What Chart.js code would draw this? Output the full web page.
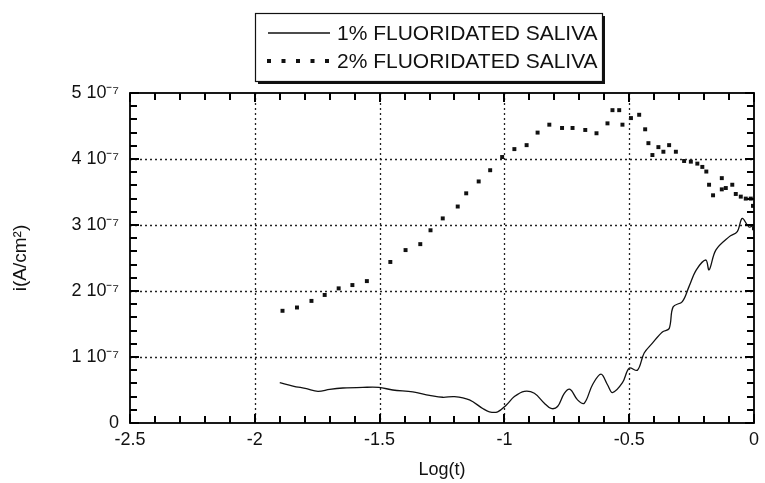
<!DOCTYPE html>
<html>
<head>
<meta charset="utf-8">
<script src="https://cdn.jsdelivr.net/npm/chart.js@4.4.0/dist/chart.umd.min.js"></script>
<style>
  html, body { margin: 0; padding: 0; background: #fff; }
</style>
</head>
<body>
<canvas id="chart" width="765" height="483"></canvas>
<script>
// axis labels
const xTickLabels = ['-2.5', '-2', '-1.5', '-1', '-0.5', '0'];
const yTickLabels = ['0', '1 10⁻⁷', '2 10⁻⁷', '3 10⁻⁷', '4 10⁻⁷', '5 10⁻⁷'];
const seriesLabels = ['1% FLUORIDATED SALIVA', '2% FLUORIDATED SALIVA'];

// 1% saliva: log(t) and current density (units of 1e-7 A/cm2)
const logT1 = [-1.90, -1.847, -1.793, -1.747, -1.70, -1.647, -1.567, -1.503, -1.447, -1.367, -1.30, -1.247,
  -1.20, -1.14, -1.087, -1.06, -1.027, -0.993, -0.96, -0.92, -0.88, -0.84, -0.813, -0.787, -0.76, -0.737,
  -0.707, -0.68, -0.647, -0.613, -0.587, -0.567, -0.527, -0.50, -0.467, -0.44, -0.407, -0.367, -0.34,
  -0.324, -0.287, -0.26, -0.231, -0.193, -0.18, -0.153, -0.10, -0.067, -0.047, -0.02, 0];
const i1 = [0.61, 0.56, 0.52, 0.48, 0.51, 0.53, 0.54, 0.54, 0.50, 0.47, 0.42, 0.39,
  0.40, 0.35, 0.22, 0.17, 0.17, 0.27, 0.40, 0.48, 0.45, 0.30, 0.22, 0.25, 0.45, 0.51,
  0.35, 0.30, 0.58, 0.74, 0.58, 0.46, 0.61, 0.83, 0.80, 1.06, 1.21, 1.38, 1.43,
  1.76, 1.84, 2.07, 2.32, 2.47, 2.32, 2.62, 2.82, 2.90, 3.10, 2.97, 3.00];

// 2% saliva
const logT2 = [-1.889, -1.831, -1.773, -1.72, -1.664, -1.609, -1.551, -1.457, -1.396, -1.337, -1.296, -1.247,
  -1.187, -1.153, -1.103, -1.057, -1.009, -0.96, -0.911, -0.867, -0.82, -0.769, -0.727, -0.676, -0.631,
  -0.587, -0.567, -0.54, -0.527, -0.493, -0.46, -0.436, -0.423, -0.407, -0.383, -0.363, -0.34, -0.313,
  -0.28, -0.253, -0.227, -0.207, -0.191, -0.18, -0.164, -0.129, -0.129, -0.113, -0.087, -0.073, -0.053,
  -0.033, -0.013, -0.004, 0];
const i2 = [1.70, 1.75, 1.85, 1.94, 2.04, 2.09, 2.15, 2.44, 2.62, 2.71, 2.92, 3.10,
  3.28, 3.48, 3.66, 3.83, 4.03, 4.15, 4.21, 4.40, 4.52, 4.47, 4.47, 4.44, 4.39,
  4.54, 4.74, 4.74, 4.52, 4.62, 4.67, 4.45, 4.24, 4.06, 4.18, 4.11, 4.21, 4.11,
  3.97, 3.96, 3.93, 3.88, 3.81, 3.61, 3.45, 3.71, 3.54, 3.56, 3.61, 3.47, 3.43,
  3.40, 3.40, 3.29, 2.95];

const FONT = '"Liberation Sans", Arial, sans-serif';
const INK = '#111';

function toPoints(xs, ys) {
  return xs.map((x, k) => ({ x: x, y: ys[k] }));
}

// dotted grid, frame and inward ticks (drawn on top of the data)
const framePlugin = {
  id: 'frame',
  afterDatasetsDraw(chart) {
    const { ctx, chartArea: a, scales: { x, y } } = chart;
    ctx.save();
    ctx.strokeStyle = '#222';
    ctx.lineWidth = 1.3;
    ctx.setLineDash([2, 3]);
    for (let v = -2; v < 0; v += 0.5) {
      const px = Math.round(x.getPixelForValue(v)) + 0.5;
      ctx.beginPath(); ctx.moveTo(px, a.top); ctx.lineTo(px, a.bottom); ctx.stroke();
    }
    for (let v = 1; v < 5; v++) {
      const py = Math.round(y.getPixelForValue(v)) + 0.5;
      ctx.beginPath(); ctx.moveTo(a.left, py); ctx.lineTo(a.right, py); ctx.stroke();
    }
    ctx.setLineDash([]);
    ctx.strokeStyle = '#000';
    ctx.lineWidth = 2;
    ctx.beginPath();
    for (let k = 0; k <= 25; k++) {
      const px = Math.round(x.getPixelForValue(-2.5 + k * 0.1));
      const len = k % 5 === 0 ? 9 : 7;
      ctx.moveTo(px, a.bottom); ctx.lineTo(px, a.bottom - len);
      ctx.moveTo(px, a.top); ctx.lineTo(px, a.top + len);
    }
    for (let k = 0; k <= 25; k++) {
      const py = Math.round(y.getPixelForValue(k * 0.2));
      const len = k % 5 === 0 ? 9 : 7;
      ctx.moveTo(a.left, py); ctx.lineTo(a.left + len, py);
      ctx.moveTo(a.right, py); ctx.lineTo(a.right - len, py);
    }
    ctx.stroke();
    ctx.lineWidth = 1.8;
    ctx.strokeRect(a.left, a.top, a.right - a.left, a.bottom - a.top);
    ctx.restore();
  }
};

// boxed legend with drop shadow, above the plot
const legendPlugin = {
  id: 'boxLegend',
  afterDraw(chart) {
    const ctx = chart.ctx;
    const bx = 255, by = 13, bw = 347, bh = 68;
    ctx.save();
    ctx.fillStyle = INK;
    ctx.fillRect(bx + 3, by + 3, bw, bh);
    ctx.fillStyle = '#fff';
    ctx.fillRect(bx, by, bw, bh);
    ctx.strokeStyle = INK;
    ctx.lineWidth = 1.2;
    ctx.strokeRect(bx + 0.5, by + 0.5, bw, bh);

    const rows = [33, 61];
    ctx.fillStyle = INK;
    ctx.lineWidth = 1.3;
    ctx.beginPath(); ctx.moveTo(268, rows[0]); ctx.lineTo(330, rows[0]); ctx.stroke();
    for (let k = 0; k < 5; k++) {
      ctx.fillRect(267 + k * 14.5, rows[1] - 2, 4, 4);
    }
    ctx.font = '21px ' + FONT;
    ctx.textBaseline = 'middle';
    chart.data.datasets.forEach((ds, k) => ctx.fillText(ds.label, 337, rows[k] + 1));
    ctx.restore();
  }
};

new Chart(document.getElementById('chart'), {
  type: 'scatter',
  data: {
    datasets: [
      {
        label: seriesLabels[0],
        data: toPoints(logT1, i1),
        showLine: true,
        borderColor: INK,
        borderWidth: 1.3,
        tension: 0.35,
        pointRadius: 0,
      },
      {
        label: seriesLabels[1],
        data: toPoints(logT2, i2),
        showLine: false,
        pointStyle: 'rect',
        pointRadius: 2.8,
        backgroundColor: INK,
        borderWidth: 0,
      },
    ],
  },
  options: {
    responsive: false,
    animation: false,
    layout: { padding: { top: 93, right: 10, left: 0, bottom: 0 } },
    plugins: { legend: { display: false }, tooltip: { enabled: false } },
    scales: {
      x: {
        type: 'linear', min: -2.5, max: 0,
        afterFit: (s) => { s.height = 60; },
        grid: { display: false, drawTicks: false },
        border: { display: false },
        ticks: {
          stepSize: 0.5, autoSkip: false, maxRotation: 0, padding: 6,
          color: INK, font: { family: FONT, size: 18 },
          callback: (v, idx) => xTickLabels[idx],
        },
        title: { display: true, text: 'Log(t)', color: INK, font: { family: FONT, size: 18 }, padding: { top: 0, bottom: 2 } },
      },
      y: {
        type: 'linear', min: 0, max: 5,
        afterFit: (s) => { s.width = 130; },
        grid: { display: false, drawTicks: false },
        border: { display: false },
        ticks: {
          stepSize: 1, padding: 11,
          color: INK, font: { family: FONT, size: 18 },
          callback: (v, idx) => yTickLabels[idx],
        },
        title: { display: true, text: 'i(A/cm²)', color: INK, font: { family: FONT, size: 19 }, padding: { top: 9, bottom: 0 } },
      },
    },
  },
  plugins: [framePlugin, legendPlugin],
});
</script>
</body>
</html>
